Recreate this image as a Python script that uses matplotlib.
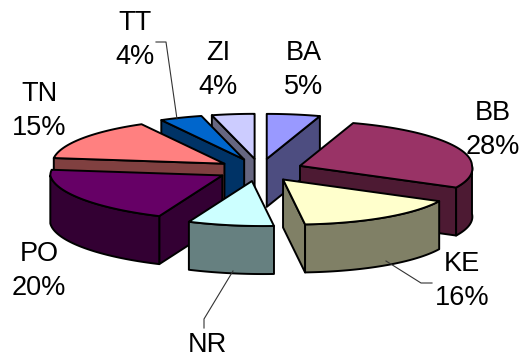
import numpy as np
import matplotlib
matplotlib.use("Agg")
import matplotlib.pyplot as plt

names = ["BA", "BB", "KE", "NR", "PO", "TN", "TT", "ZI"]
values = [5, 28, 16, 8, 20, 15, 4, 4]
top_colors = ["#9999FF", "#993366", "#FFFFCC", "#CCFFFF", "#660066", "#FF8080", "#0066CC", "#CCCCFF"]
side_colors = ["#4D4D80", "#4D1A33", "#808066", "#668080", "#330033", "#804040", "#003366", "#666680"]

# centre of each label text in pixels
label_pos = [(304, 70), (493, 130), (462, 281), (207, 345), (39, 271), (39, 111), (135, 40), (218, 70)]
# back slices go first so the front ones cover them
draw_order = ["ZI", "BA", "TT", "TN", "BB", "PO", "KE", "NR"]

CX, CY = 260, 170
RX, RY = 172, 45
DEPTH = 48
EXPLODE = 0.25
SHEAR = 0.25

plt.rcParams["font.family"] = ["Liberation Sans", "DejaVu Sans"]

fig = plt.figure(figsize=(5.22, 3.58), dpi=100)
ax = fig.add_axes([0, 0, 1, 1])
ax.set_xlim(0, 522)
ax.set_ylim(358, 0)
ax.axis("off")


def rim(ax0, ay0, t):
    # point on the ellipse, t in degrees clockwise from 12 o'clock
    r = np.radians(t)
    front = np.maximum(0, -np.cos(r))
    return ax0 + RX * np.sin(r) + SHEAR * RY * front, ay0 - RY * np.cos(r)


def face(xs, ys, color):
    ax.fill(xs, ys, facecolor=color, edgecolor="black", linewidth=1.4, joinstyle="round")


def wall(x0, y0, x1, y1, color):
    face([x0, x1, x1, x0], [y0, y1, y1 + DEPTH, y0 + DEPTH], color)


edges = np.cumsum([0] + values) / sum(values) * 360
slices = {}
for i, name in enumerate(names):
    slices[name] = (i, edges[i], edges[i + 1])

for name in draw_order:
    i, t1, t2 = slices[name]
    mid = np.radians((t1 + t2) / 2)
    ax0 = CX + EXPLODE * RX * np.sin(mid)
    ay0 = CY - EXPLODE * RY * np.cos(mid)

    # cut faces, only the ones turned towards the viewer
    if np.sin(np.radians(t1)) < 0:
        wall(ax0, ay0, *rim(ax0, ay0, t1), side_colors[i])
    if np.sin(np.radians(t2)) > 0:
        wall(ax0, ay0, *rim(ax0, ay0, t2), side_colors[i])

    # outer wall on the front half of the ellipse
    lo, hi = max(t1, 90), min(t2, 270)
    if hi > lo:
        ts = np.linspace(lo, hi, 60)
        xs, ys = rim(ax0, ay0, ts)
        face(np.r_[xs, xs[::-1]], np.r_[ys, ys[::-1] + DEPTH], side_colors[i])

    ts = np.linspace(t1, t2, 60)
    xs, ys = rim(ax0, ay0, ts)
    face(np.r_[ax0, xs], np.r_[ay0, ys], top_colors[i])

# leader lines
ax.plot([156, 166, 177], [42, 42, 119], color="#333333", linewidth=0.8)
ax.plot([386, 421, 432], [261, 283, 283], color="#333333", linewidth=0.8)
ax.plot([233, 204, 204], [271, 319, 328], color="#333333", linewidth=0.8)

for name, value, (x, y) in zip(names, values, label_pos):
    # NR has no room for its percentage under the name
    label = name if name == "NR" else f"{name}\n{value}%"
    ax.text(x, y, label, ha="center", va="center", fontsize=19.5,
            linespacing=1.38, color="black", clip_on=False)

fig.savefig("out.png", dpi=100)
